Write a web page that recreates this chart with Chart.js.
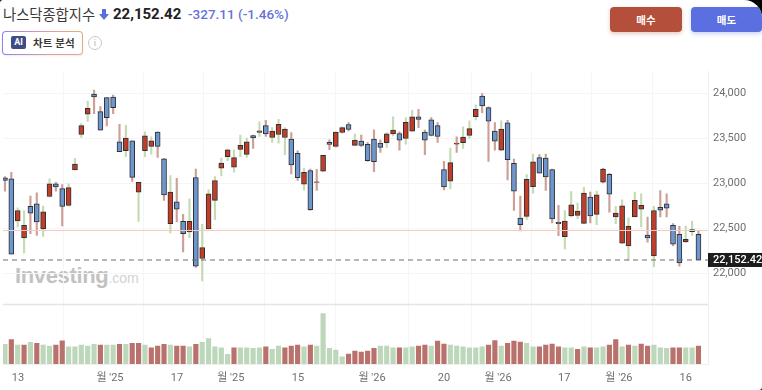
<!DOCTYPE html>
<html lang="ko">
<head>
<meta charset="utf-8">
<title>나스닥종합지수</title>
<script src="https://cdn.jsdelivr.net/npm/chart.js@4"></script>
<style>
  html, body { margin: 0; padding: 0; background: #000; }
  #page {
    position: relative; width: 762px; height: 390px; overflow: hidden;
    background: #fff; border-radius: 3px 18px 3px 0;
    font-family: Roboto, "Noto Sans CJK KR", sans-serif;
  }
  #page > * { position: absolute; }
  #name { left: 3px; top: 5px; font-size: 14.3px; color: #3a3a3a; font-family: "Noto Sans CJK KR", sans-serif; line-height: 18px; }
  #arrow { left: 99px; top: 9px; }
  #last { left: 113px; top: 5px; font-size: 15px; font-weight: 700; color: #222; line-height: 18px; }
  #change { left: 188px; top: 5px; font-size: 13.5px; font-weight: 500; color: #6672d8; line-height: 18px; }
  #ai {
    left: 2px; top: 31px; width: 79px; height: 22px; box-sizing: content-box;
    border: 1px solid transparent; border-radius: 4px;
    background: linear-gradient(#fff, #fff) padding-box, linear-gradient(90deg, #8f80f2, #e0a0a8 60%, #e8ab78) border-box;
    box-shadow: 0 1px 2px rgba(0,0,0,.08);
  }
  #ai-icon {
    position: absolute; left: 8px; top: 4px; width: 15px; height: 13px; border-radius: 2px;
    background: #3f4c85; color: #fff; font-size: 9px; font-weight: 700; line-height: 13px; text-align: center;
  }
  #ai-text { position: absolute; left: 30px; top: 3px; font-size: 10.5px; font-weight: 700; color: #3a3a3a; line-height: 16px; font-family: "Noto Sans CJK KR", sans-serif; white-space: nowrap; }
  #info {
    left: 88px; top: 36px; width: 12px; height: 12px; border: 1px solid #c8c8c8; border-radius: 50%;
    color: #b5b5b5; font-size: 9.5px; line-height: 12px; text-align: center;
  }
  .btn {
    top: 7px; height: 25px; border-radius: 4px; color: #fff; font-size: 10.5px; font-weight: 700;
    line-height: 25px; text-align: center; font-family: "Noto Sans CJK KR", sans-serif;
  }
  #buy { left: 610px; width: 72px; background: #b34f3a; box-shadow: 0 2px 4px rgba(179,79,58,.3); }
  #sell { left: 691px; width: 71px; background: #5b6fe0; box-shadow: 0 2px 4px rgba(91,111,224,.3); }
  #mark { left: 15px; top: 262px; color: #c2c2c2; font-size: 22px; font-weight: 700; letter-spacing: -.35px; line-height: 28px; font-family: "Liberation Sans", sans-serif; white-space: nowrap; }
  #mark span { font-size: 14px; font-weight: 400; color: #d2d2d2; letter-spacing: 0; }
  #chart { left: 0; top: 60px; filter: blur(.35px); }
</style>
</head>
<body>
<div id="page">
  <div id="name">나스닥종합지수</div>
  <svg id="arrow" width="10" height="11" viewBox="0 0 10 11"><path d="M3 0h4v5h3L5 11 0 5h3z" fill="#5b6fd8"/></svg>
  <div id="last">22,152.42</div>
  <div id="change">-327.11 (-1.46%)</div>
  <div id="ai"><div id="ai-icon">AI</div><div id="ai-text">차트 분석</div></div>
  <div id="info">i</div>
  <div id="buy" class="btn">매수</div>
  <div id="sell" class="btn">매도</div>
  <div id="mark">Investing<span>.com</span></div>
  <canvas id="chart" width="762" height="330"></canvas>
</div>
<script>
// Daily candles, oldest first
const opens = [23063,23052,22585,22397,22747,22776,22496,22857,22997,22945,22758,23151,23545,23770,23994,23799,23954,23961,23464,23365,23475,22905,23365,23413,23571,23276,22555,22798,22581,22463,23067,22169,22496,22813,23170,23299,23181,23380,23324,23534,23567,23644,23512,23545,23512,23494,23335,22993,23144,23012,23137,23457,23413,23567,23656,23424,23472,23435,23494,23449,23453,23552,23556,23501,23582,23740,23571,23707,23644,23155,23026,23438,23453,23534,23744,23972,23843,23582,23372,23674,23225,22618,22636,22967,23288,23284,23155,22570,22412,22640,22647,22559,22850,22658,23015,23104,22629,22338,22309,22629,22717,22430,22198,22736,22776,22537,22437,22353,22467,22437];
const highs = [23078,23126,22732,22702,22861,22897,22750,23052,23015,22989,22997,23280,23667,23917,24038,23854,23954,23983,23659,23648,23475,23015,23575,23519,23575,23280,23089,23059,22658,22831,23162,22548,22931,23078,23284,23383,23376,23538,23505,23538,23685,23703,23622,23714,23622,23567,23365,23173,23162,23159,23317,23486,23575,23630,23678,23549,23538,23457,23597,23486,23567,23740,23575,23733,23814,23825,23593,23733,23678,23247,23394,23519,23630,23696,23873,23998,23851,23678,23696,23703,23273,22861,23100,23328,23321,23328,23162,22758,22702,22912,22783,22960,22905,22916,23170,23115,22747,22820,22621,22905,22886,22629,22747,22923,22886,22555,22526,22529,22585,22482];
const lows = [22916,22217,22518,22231,22445,22426,22415,22850,22916,22529,22750,23151,23512,23689,23777,23593,23641,23777,23354,23299,23023,22581,23299,23328,23291,22813,22452,22574,22242,22401,22069,21919,22496,22599,23089,23254,23126,23299,23291,23391,23523,23523,23457,23449,23321,23107,23034,22931,22702,22923,23133,23376,23402,23560,23586,23420,23413,23247,23133,23346,23402,23530,23372,23438,23578,23622,23321,23530,23457,22931,22942,23346,23391,23501,23707,23788,23247,23372,23365,23041,22702,22474,22603,22894,23115,22923,22563,22423,22276,22629,22610,22555,22563,22544,23008,22684,22555,22334,22150,22629,22518,22349,22077,22629,22629,22309,22084,22345,22426,22169];
const closes = [23034,22217,22702,22537,22673,22574,22688,22997,22964,22747,22956,23218,23644,23836,23961,23593,23733,23843,23354,23505,23070,23015,23530,23475,23413,22875,22905,22717,22445,22581,22084,22290,22886,23034,23229,23376,23288,23424,23464,23508,23586,23552,23582,23659,23604,23207,23067,23126,22710,23019,23313,23435,23571,23622,23600,23483,23424,23254,23243,23402,23552,23593,23483,23681,23740,23711,23483,23534,23523,22964,23232,23449,23516,23611,23825,23862,23692,23472,23604,23265,22916,22544,23048,23243,23115,23074,22607,22555,22585,22765,22695,22894,22640,22875,23162,22883,22673,22754,22526,22813,22758,22397,22702,22706,22728,22327,22121,22382,22489,22152.42];

// Up days whose wick is still drawn in the brown colour
const brownWickUps = [49, 71, 94];

const volumes = [5.9,7.4,5.7,5.7,6.5,6.2,5.7,5.4,5.7,7.0,5.2,5.2,5.7,5.4,5.9,5.7,5.7,5.7,5.9,5.9,6.2,6.2,5.7,4.9,5.4,5.9,5.7,5.4,5.4,5.2,5.9,6.5,7.7,5.2,4.9,2.9,4.9,4.9,4.9,4.7,4.9,5.2,4.4,5.4,4.9,5.4,5.7,5.2,5.7,5.4,15.2,4.7,4.2,2.2,3.0,3.9,3.6,3.9,4.7,5.4,5.4,4.9,4.9,4.9,5.2,5.4,5.7,5.4,6.9,6.0,5.7,5.4,5.2,4.9,4.9,5.2,5.7,7.1,5.4,6.2,6.9,6.6,6.2,5.2,5.2,5.7,6.0,5.2,4.9,4.9,4.4,5.2,4.9,4.9,5.2,5.7,7.4,5.2,5.7,5.4,6.0,5.4,5.7,4.9,4.7,4.9,4.9,4.9,4.9,5.4];
// 1 = red volume bar, 0 = green
const volumeRed = [0,1,0,1,0,1,0,0,1,1,0,0,0,0,0,1,0,0,1,0,1,1,0,1,1,1,0,1,1,0,1,0,0,0,0,0,1,0,0,0,0,1,0,0,1,1,1,0,1,0,0,0,0,0,1,1,1,1,1,0,0,0,1,0,0,1,1,0,1,1,0,0,0,0,0,0,1,1,0,1,1,1,0,0,1,1,1,1,0,0,1,0,1,0,0,1,1,0,1,0,1,1,0,0,0,1,1,0,0,1];

const dateTicks = [2.04, 16.5, 27.04, 35.5, 46.05, 57.7, 69, 77.5, 87.9, 96.5, 107];
const dateLabels = ["13", "월 '25", "17", "월 '25", "15", "월 '26", "20", "월 '26", "17", "월 '26", "16"];
const priceTicks = [22000, 22500, 23000, 23500, 24000];

const prevClose = 22479.53;
const lastPrice = 22152.42;

const UP_BODY = "#c23d26";
const DOWN_BODY = "#6e96cc";
const BODY_EDGE = "#2b2f36";
const BROWN_WICK = "#cda096";
const GREEN_WICK = "#c4dbb4";
const TICK_COLOR = "#6f6f6f";
const GRID_COLOR = "#f5f5f5";

// Price lines, pane divider and the last price tag
const overlays = {
  id: "overlays",
  afterDatasetsDraw(chart) {
    const { ctx, chartArea, scales } = chart;
    const { left, right, bottom } = chartArea;

    ctx.save();
    ctx.strokeStyle = "#f3c9c1";
    ctx.lineWidth = 1;
    ctx.beginPath();
    ctx.moveTo(left, scales.y.getPixelForValue(prevClose));
    ctx.lineTo(right, scales.y.getPixelForValue(prevClose));
    ctx.stroke();

    const lastY = scales.y.getPixelForValue(lastPrice);
    ctx.strokeStyle = "#6e6e6e";
    ctx.lineWidth = 1;
    ctx.setLineDash([5, 4]);
    ctx.beginPath();
    ctx.moveTo(left, lastY);
    ctx.lineTo(right, lastY);
    ctx.stroke();
    ctx.setLineDash([]);

    // divider sits just above the volume pane
    ctx.strokeStyle = "#e4e4e4";
    ctx.lineWidth = 1.5;
    ctx.beginPath();
    ctx.moveTo(left, bottom - 59.5);
    ctx.lineTo(right, bottom - 59.5);
    ctx.stroke();

    ctx.fillStyle = "#1c1c1c";
    ctx.fillRect(right, lastY - 7, chart.width - right, 14);
    ctx.fillStyle = "#fff";
    ctx.font = "500 11px Roboto";
    ctx.textAlign = "left";
    ctx.textBaseline = "middle";
    ctx.fillText(lastPrice.toLocaleString("en-US"), right + 5, lastY + 0.5);
    ctx.restore();
  },
};

const xs = opens.map((_, i) => i);

new Chart(document.getElementById("chart"), {
  type: "bar",
  data: {
    datasets: [
      {
        label: "Candle",
        order: 1,
        yAxisID: "y",
        barThickness: 5,
        borderWidth: 1,
        borderSkipped: false,
        borderColor: BODY_EDGE,
        backgroundColor: xs.map((i) => (closes[i] < opens[i] ? DOWN_BODY : UP_BODY)),
        data: xs.map((i) => ({ x: i, y: [opens[i], closes[i]] })),
      },
      {
        label: "Wick",
        order: 2,
        yAxisID: "y",
        barThickness: 1.5,
        backgroundColor: xs.map((i) =>
          closes[i] < opens[i] || brownWickUps.includes(i) ? BROWN_WICK : GREEN_WICK
        ),
        data: xs.map((i) => ({ x: i, y: [lows[i], highs[i]] })),
      },
      {
        label: "Volume",
        order: 3,
        yAxisID: "vol",
        barThickness: 4.5,
        backgroundColor: xs.map((i) => (volumeRed[i] ? "#b9716c" : "#bcd7b9")),
        data: xs.map((i) => ({ x: i, y: volumes[i] })),
      },
    ],
  },
  options: {
    responsive: false,
    animation: false,
    layout: { padding: { left: 3, top: 10, right: 0, bottom: 0 } },
    datasets: { bar: { grouped: false } },
    plugins: { legend: { display: false }, tooltip: { enabled: false } },
    scales: {
      x: {
        type: "linear",
        offset: false,
        min: -0.31,
        max: 110.5,
        afterBuildTicks(scale) {
          scale.ticks = dateTicks.map((value) => ({ value }));
        },
        afterFit(scale) {
          scale.height = 26;
        },
        grid: { color: GRID_COLOR, drawTicks: false },
        border: { color: "#efefef" },
        ticks: {
          autoSkip: false,
          maxRotation: 0,
          padding: 8,
          color: TICK_COLOR,
          font: { family: "Roboto, 'Noto Sans CJK KR'", size: 11 },
          callback: (value, index) => dateLabels[index],
        },
      },
      y: {
        position: "right",
        min: 20998,
        max: 24243,
        afterBuildTicks(scale) {
          scale.ticks = priceTicks.map((value) => ({ value }));
        },
        afterFit(scale) {
          scale.width = 54;
        },
        grid: { color: GRID_COLOR, drawTicks: false },
        border: { color: "#efefef" },
        ticks: {
          padding: 5,
          color: TICK_COLOR,
          font: { family: "Roboto", size: 11 },
          callback: (value) => value.toLocaleString("en-US"),
        },
      },
      vol: {
        display: false,
        position: "right",
        min: 0,
        max: 88.2,
      },
    },
  },
  plugins: [overlays],
});
</script>
</body>
</html>
